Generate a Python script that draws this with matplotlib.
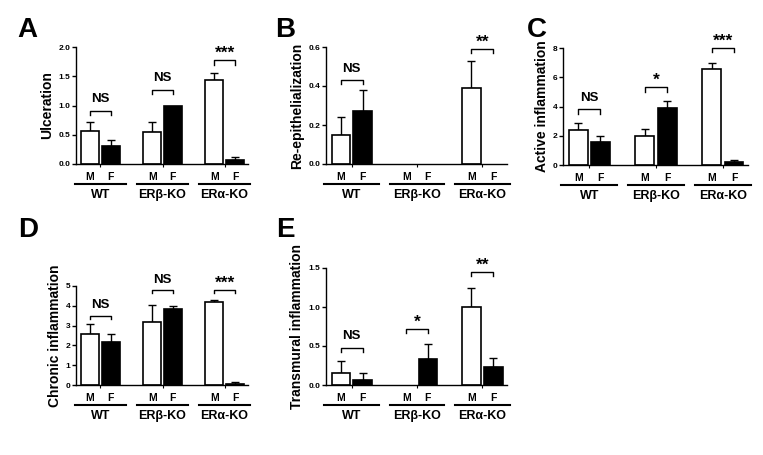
import numpy as np
import matplotlib
matplotlib.use("Agg")
import matplotlib.pyplot as plt

plt.rcParams['font.family'] = ['Liberation Sans', 'DejaVu Sans']
plt.rcParams['font.weight'] = 'bold'

groups = ['WT', 'ER\u03b2-KO', 'ER\u03b1-KO']
sexes = ['M', 'F']

# means and SEM, order: WT M, WT F, ERb M, ERb F, ERa M, ERa F
ulc_mean = [0.57, 0.30, 0.55, 1.00, 1.44, 0.07]
ulc_err = [0.14, 0.11, 0.16, 0.0, 0.11, 0.05]
ulc_sig = ['NS', 'NS', '***']
ulc_brk = [0.91, 1.27, 1.77]

rep_mean = [0.15, 0.27, 0.0, 0.0, 0.39, 0.0]
rep_err = [0.09, 0.11, 0.0, 0.0, 0.14, 0.0]
rep_sig = ['NS', None, '**']
rep_brk = [0.43, None, 0.59]

act_mean = [2.4, 1.6, 2.0, 3.9, 6.55, 0.2]
act_err = [0.45, 0.35, 0.45, 0.5, 0.4, 0.12]
act_sig = ['NS', '*', '***']
act_brk = [3.8, 5.3, 8.0]

chr_mean = [2.6, 2.15, 3.2, 3.82, 4.2, 0.06]
chr_err = [0.5, 0.42, 0.85, 0.18, 0.1, 0.08]
chr_sig = ['NS', 'NS', '***']
chr_brk = [3.5, 4.8, 4.8]

trn_mean = [0.15, 0.07, 0.0, 0.33, 1.0, 0.23]
trn_err = [0.16, 0.08, 0.0, 0.19, 0.25, 0.12]
trn_sig = ['NS', '*', '**']
trn_brk = [0.48, 0.72, 1.45]

pos = np.array([0, 1, 3, 4, 6, 7])
colors = np.array(['white', 'black'] * 3)

W, H = 763, 455
fig = plt.figure(figsize=(W / 100, H / 100), dpi=100)


def panel(rect, letter, letter_xy, mean, err, ylabel, yticks, ylim, sig, brk, fmt):
    l, t, r, b = rect
    ax = fig.add_axes([l / W, 1 - b / H, (r - l) / W, (b - t) / H])
    hpx = b - t
    mean = np.array(mean)
    err = np.array(err)
    m = mean > 0
    ax.bar(pos[m], mean[m], width=0.85, color=colors[m], edgecolor='black', linewidth=1.2, zorder=2)
    e = err > 0
    ax.errorbar(pos[e], mean[e], yerr=[np.zeros(e.sum()), err[e]], fmt='none', ecolor='black',
                elinewidth=1.0, capsize=3, capthick=1.0, zorder=1)
    ax.set_xlim(-0.68, 7.63)
    ax.set_ylim(*ylim)
    ax.set_yticks(yticks)
    ax.set_yticklabels([fmt.format(v) for v in yticks], fontsize=6, fontweight='bold')
    ax.set_xticks([0.5, 3.5, 6.5])
    ax.set_xticklabels([])
    ax.tick_params(axis='x', length=2, width=0.8)
    ax.tick_params(axis='y', length=3, width=1, pad=1)
    ax.spines['top'].set_visible(False)
    ax.spines['right'].set_visible(False)
    ax.spines['left'].set_linewidth(1)
    ax.spines['bottom'].set_linewidth(1)
    ax.set_ylabel(ylabel, fontsize=10, fontweight='bold', labelpad=3)

    span = ylim[1] - ylim[0]
    for i, (s, yb) in enumerate(zip(sig, brk)):
        if s is None:
            continue
        x0, x1 = pos[2 * i], pos[2 * i + 1]
        d = span * 0.035
        ax.plot([x0, x0, x1, x1], [yb - d, yb, yb, yb - d], color='black', lw=1.0, clip_on=False)
        fs = 9.5 if s == 'NS' else 12.5
        ax.text((x0 + x1) / 2, yb + span * (0.045 if s == 'NS' else -0.005), s, ha='center',
                va='bottom', fontsize=fs, fontweight='bold', clip_on=False)

    # labels under the axis
    tr = ax.get_xaxis_transform()
    for i, g in enumerate(groups):
        for j, sx in enumerate(sexes):
            ax.text(pos[2 * i + j], -13 / hpx, sx, transform=tr, ha='center', va='center',
                    fontsize=7.5, fontweight='bold')
        c = (pos[2 * i] + pos[2 * i + 1]) / 2
        ax.plot([c - 1.25, c + 1.25], [-20 / hpx, -20 / hpx], transform=tr, color='black',
                lw=1.5, clip_on=False)
        ax.text(c, -31 / hpx, g, transform=tr, ha='center', va='center', fontsize=9,
                fontweight='bold')

    fig.text(letter_xy[0] / W, 1 - letter_xy[1] / H, letter, fontsize=20, fontweight='bold',
             ha='left', va='baseline')
    return ax


panel((76, 47, 248, 164), 'A', (17, 37), ulc_mean, ulc_err, 'Ulceration',
      [0, 0.5, 1.0, 1.5, 2.0], (0, 2.0), ulc_sig, ulc_brk, '{:.1f}')
panel((326, 47, 507, 164), 'B', (275, 37), rep_mean, rep_err, 'Re-epithelialization',
      [0, 0.2, 0.4, 0.6], (0, 0.6), rep_sig, rep_brk, '{:.1f}')
panel((563, 48, 748, 165), 'C', (527, 37), act_mean, act_err, 'Active inflammation',
      [0, 2, 4, 6, 8], (0, 8), act_sig, act_brk, '{:.0f}')
panel((76, 286, 248, 385), 'D', (18, 237), chr_mean, chr_err, 'Chronic inflammation',
      [0, 1, 2, 3, 4, 5], (0, 5), chr_sig, chr_brk, '{:.0f}')
panel((326, 268, 507, 385), 'E', (276, 237), trn_mean, trn_err, 'Transmural inflammation',
      [0, 0.5, 1.0, 1.5], (0, 1.5), trn_sig, trn_brk, '{:.1f}')

fig.savefig('out.png', dpi=100)
